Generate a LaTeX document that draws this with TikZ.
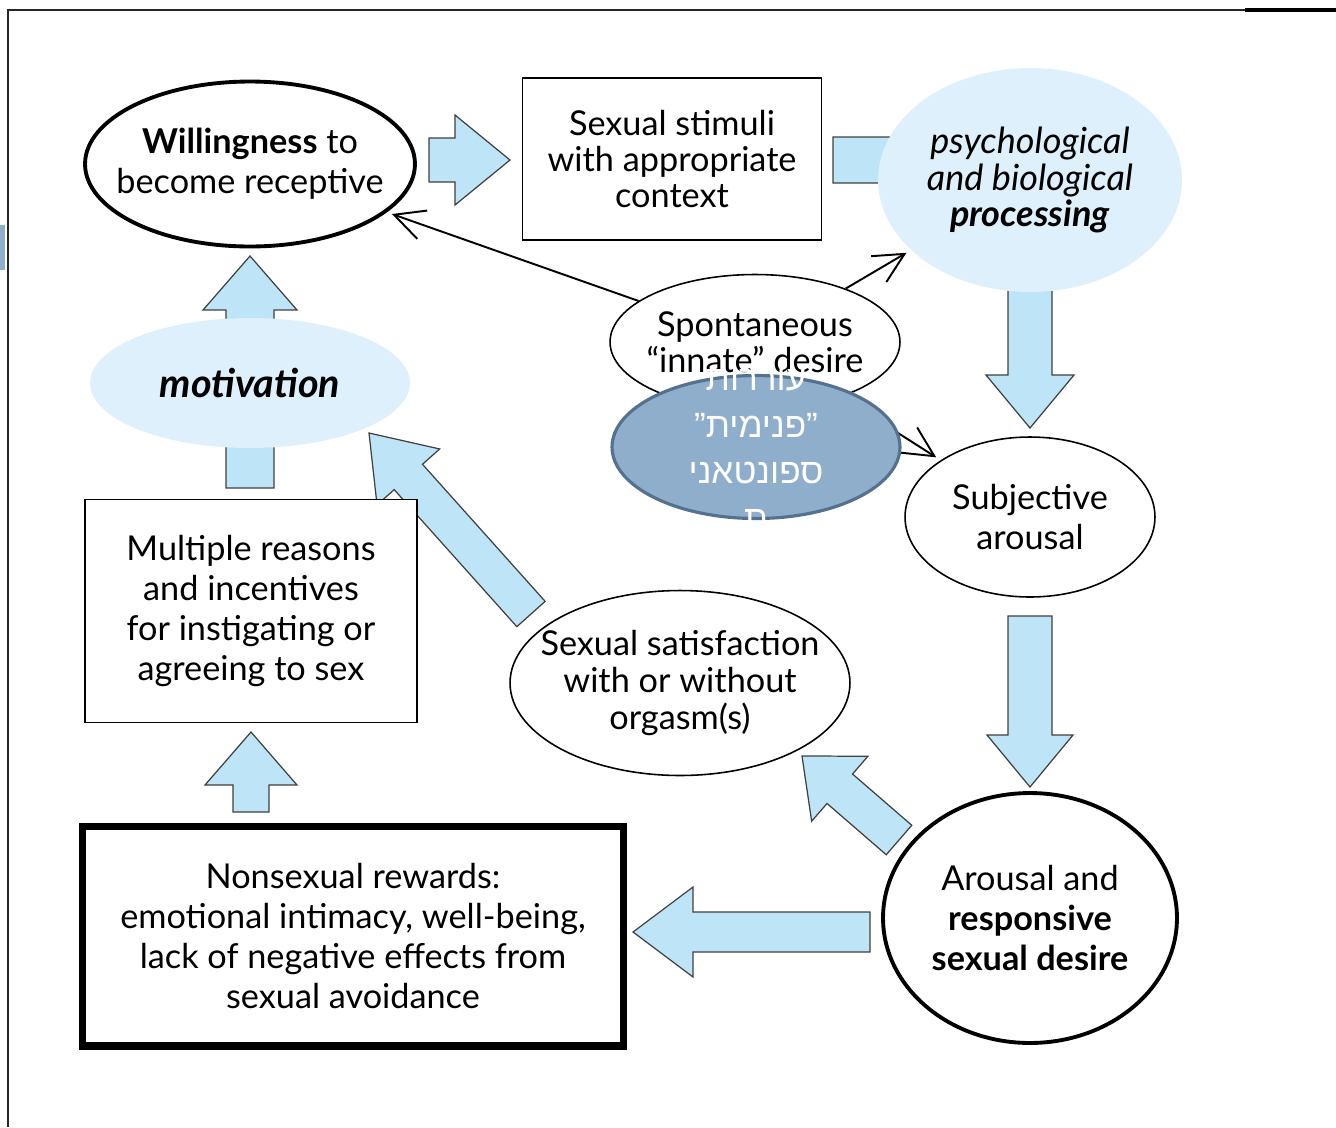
\documentclass[tikz,border=0pt]{standalone}
\usepackage{fontspec}
\setmainfont{Lato}
\newfontfamily\hebfont[Script=Hebrew]{Liberation Sans}
\TeXXeTstate=1
\usetikzlibrary{shapes.geometric,arrows.meta,calc}
\definecolor{arrowblue}{RGB}{189,228,247}
\definecolor{softblue}{RGB}{222,240,251}
\definecolor{hebfill}{RGB}{143,174,204}
\definecolor{hebline}{RGB}{84,113,142}
% fat block arrow: tail, tip, half shaft, half head, head length
\newcommand{\fatarrow}[5]{%
  \draw[fat] ($(#1)!#3!90:(#2)$) -- ($(#2)!#5!(#1)!#3!-90:(#1)$) -- ($(#2)!#5!(#1)!#4!-90:(#1)$)
    -- (#2) -- ($(#2)!#5!(#1)!#4!90:(#1)$) -- ($(#2)!#5!(#1)!#3!90:(#1)$) -- ($(#1)!#3!-90:(#2)$) -- cycle;}
\begin{document}
\begin{tikzpicture}[x=0.02cm,y=-0.02cm,
  every node/.style={align=center,inner sep=0pt,font=\fontsize{19.5}{22.7}\selectfont},
  tight/.style={font=\fontsize{19.5}{20.5}\selectfont},
  oval/.style={ellipse,draw,line width=0.9pt,fill=white,inner sep=-0.6cm},
  box/.style={rectangle,draw,line width=0.9pt,fill=white},
  blob/.style={ellipse,fill=softblue,inner sep=-0.6cm},
  fat/.style={draw=black!75,fill=arrowblue,line width=0.7pt},
  link/.style={-{Straight Barb[length=6mm,width=6mm]},line width=1.1pt,shorten >=3pt}]
\useasboundingbox (0,0) rectangle (1336,1127);
% frame
\draw[line width=1.5pt,black!85] (8,1127) -- (8,10) -- (1245,10);
\draw[line width=2.2pt] (1245,10) -- (1336,10);
\fill[hebfill] (0,225) rectangle (5,270);
% block arrows
\coordinate (a1t) at (429,160); \coordinate (a1h) at (510,160);
\coordinate (a2t) at (833,160); \coordinate (a2h) at (1000,160);
\coordinate (a3t) at (1030,280); \coordinate (a3h) at (1030,428);
\coordinate (a4t) at (1030,616); \coordinate (a4h) at (1030,787);
\coordinate (a5t) at (870,932); \coordinate (a5h) at (633,932);
\coordinate (a6t) at (899,840); \coordinate (a6h) at (802,756);
\coordinate (a7t) at (251,812); \coordinate (a7h) at (251,732);
\coordinate (a8t) at (250,488); \coordinate (a8h) at (250,256);
\coordinate (a9t) at (531,614); \coordinate (a9h) at (369,433);
\fatarrow{a1t}{a1h}{0.44cm}{0.9cm}{1.1cm}
\fatarrow{a2t}{a2h}{0.46cm}{0.9cm}{1.1cm}
\fatarrow{a3t}{a3h}{0.44cm}{0.88cm}{1.06cm}
\fatarrow{a4t}{a4h}{0.44cm}{0.86cm}{1.04cm}
\fatarrow{a5t}{a5h}{0.4cm}{0.9cm}{1.2cm}
\fatarrow{a6t}{a6h}{0.39cm}{0.86cm}{1.0cm}
\fatarrow{a7t}{a7h}{0.36cm}{0.92cm}{1.06cm}
\fatarrow{a8t}{a8h}{0.48cm}{0.94cm}{1.08cm}
\fatarrow{a9t}{a9h}{0.38cm}{0.84cm}{1.18cm}
% nodes
\node[oval,line width=2.2pt,minimum width=6.6cm,minimum height=3.3cm] (will) at (250,164) {\textbf{Willingness} to\\become receptive};
\node[box,tight,minimum width=5.98cm,minimum height=3.24cm] (stim) at (672,159) {Sexual stimuli\\with appropriate\\context};
\node[blob,font=\fontsize{20.5}{20.7}\selectfont,minimum width=6.08cm,minimum height=4.48cm] (proc) at (1030,180) {\textit{psychological}\\\textit{and biological}\\\textbf{\textit{processing}}};
\node[oval,tight,minimum width=5.8cm,minimum height=2.7cm] (spon) at (755,342) {Spontaneous\\“innate” desire};
\node[oval,minimum width=5cm,minimum height=3.2cm] (subj) at (1030,517) {Subjective\\arousal};
\node[oval,line width=2.2pt,minimum width=5.88cm,minimum height=5cm] (arou) at (1030,918) {Arousal and\\\textbf{responsive}\\\textbf{sexual desire}};
\node[oval,font=\fontsize{19.5}{21}\selectfont,minimum width=6.8cm,minimum height=3.7cm] (sat) at (680,683) {Sexual satisfaction\\with or without\\orgasm(s)};
\node[box,minimum width=6.64cm,minimum height=4.46cm] (mult) at (251,611) {Multiple reasons\\and incentives\\for instigating or\\agreeing to sex};
\node[blob,font=\fontsize{22.5}{24}\selectfont,minimum width=6.4cm,minimum height=2.6cm] (motiv) at (250,383) {\textbf{\textit{motivation}}};
\node[box,line width=4pt,minimum width=10.84cm,minimum height=4.4cm] (nons) at (353,936) {Nonsexual rewards:\\emotional intimacy, well-being,\\lack of negative effects from\\sexual avoidance};
% thin arrows
\draw[link] (spon) -- (will);
\draw[link] (spon) -- (proc);
\draw[link] (spon) -- (subj);
% overlay
\node[ellipse,fill=hebfill,draw=hebline,line width=1.8pt,minimum width=5.76cm,minimum height=2.86cm] (heb) at (756,447) {};
\node[text=white,font=\hebfont\fontsize{20}{26.5}\selectfont] (hebtext) at (756,450) {\beginR עוררות\endR\\\beginR ”פנימית”\endR\\\beginR ספונטאני\endR\\\beginR ת\endR};
\end{tikzpicture}
\end{document}
